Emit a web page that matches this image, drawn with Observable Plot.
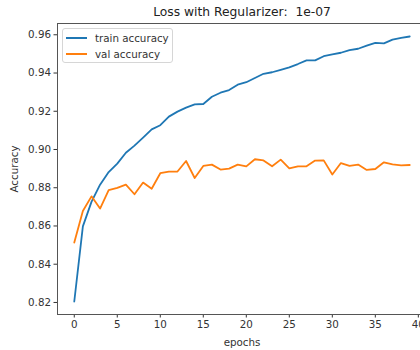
<!DOCTYPE html>
<html><head><meta charset="utf-8">
<script src="https://cdn.jsdelivr.net/npm/d3@7"></script>
<script src="https://cdn.jsdelivr.net/npm/@observablehq/plot@0.6"></script>
<style>
html,body{margin:0;padding:0;background:#fff;overflow:hidden;width:420px;height:350px;}
#wrap{position:relative;width:430px;height:350px;}
#wrap svg{position:absolute;left:0;top:0;}
.legend{position:absolute;left:62px;top:28px;width:111px;height:35px;border:1px solid #d6d6d6;border-radius:3px;background:rgba(255,255,255,0.85);box-sizing:border-box;font:10.3px "DejaVu Sans",sans-serif;color:#333;}
.legend .item{position:absolute;left:0;height:14px;width:110px;}
.legend .sw{position:absolute;left:3px;top:6px;width:21px;height:2px;}
.legend .lbl{position:absolute;left:32px;top:0;line-height:14px;white-space:nowrap;}
</style>
</head><body>
<div id="wrap"></div>
<script>
const title = "Loss with Regularizer:  1e-07";
const xLabel = "epochs";
const yLabel = "Accuracy";
const seriesNames = ["train accuracy", "val accuracy"];
const seriesColors = ["#1f77b4", "#ff7f0e"];
const epochs = [0,1,2,3,4,5,6,7,8,9,10,11,12,13,14,15,16,17,18,19,20,21,22,23,24,25,26,27,28,29,30,31,32,33,34,35,36,37,38,39];
const trainAcc = [0.8205,0.8598,0.8726,0.8816,0.8882,0.8926,0.8983,0.9020,0.9062,0.9105,0.9127,0.9172,0.9198,0.9219,0.9236,0.9238,0.9276,0.9297,0.9311,0.9339,0.9352,0.9374,0.9396,0.9404,0.9417,0.9430,0.9447,0.9466,0.9466,0.9488,0.9497,0.9506,0.9520,0.9527,0.9543,0.9558,0.9555,0.9575,0.9584,0.9591];
const valAcc = [0.8513,0.8678,0.8755,0.8691,0.8787,0.8799,0.8816,0.8766,0.8827,0.8795,0.8876,0.8884,0.8885,0.8940,0.8851,0.8914,0.8921,0.8895,0.8900,0.8921,0.8912,0.8949,0.8943,0.8912,0.8947,0.8901,0.8912,0.8912,0.8942,0.8943,0.8869,0.8929,0.8914,0.8921,0.8893,0.8898,0.8933,0.8922,0.8917,0.8919];
const xTicks = [0,5,10,15,20,25,30,35,40];
const yTicks = [0.82,0.84,0.86,0.88,0.90,0.92,0.94,0.96];

const rows = [];
epochs.forEach((e, i) => {
  rows.push({epoch: e, acc: trainAcc[i], series: seriesNames[0]});
  rows.push({epoch: e, acc: valAcc[i], series: seriesNames[1]});
});

const chart = Plot.plot({
  width: 430, height: 350,
  marginLeft: 57, marginRight: 4, marginTop: 23, marginBottom: 36,
  style: {fontFamily: "'DejaVu Sans', sans-serif", fontSize: "10.3px", color: "#333", background: "transparent", overflow: "visible"},
  x: {domain: [-1.95, 40.95]},
  y: {domain: [0.8137, 0.9659]},
  color: {domain: seriesNames, range: seriesColors},
  marks: [
    Plot.axisY({ticks: yTicks, tickFormat: d3.format(".2f"), tickSize: 3.5, tickPadding: 3, label: yLabel, labelAnchor: "center", labelArrow: "none", labelOffset: 47, color: "#333"}),
    Plot.axisX({ticks: xTicks, tickFormat: d => String(d), tickSize: 3.5, tickPadding: 3, label: xLabel, labelAnchor: "center", labelArrow: "none", labelOffset: 31, color: "#333"}),
    Plot.line(rows, {x: "epoch", y: "acc", z: "series", stroke: "series", strokeWidth: 1.8}),
    Plot.frame({stroke: "#555", strokeWidth: 1}),
    Plot.text([title], {frameAnchor: "top", lineAnchor: "middle", dy: -11, fontSize: 12.3, fill: "#222"})
  ]
});
const wrap = document.getElementById("wrap");
wrap.appendChild(chart);

const legend = document.createElement("div");
legend.className = "legend";
seriesNames.forEach((name, i) => {
  const item = document.createElement("div");
  item.className = "item";
  item.style.top = (2 + i * 16) + "px";
  const sw = document.createElement("div");
  sw.className = "sw";
  sw.style.background = seriesColors[i];
  const lbl = document.createElement("div");
  lbl.className = "lbl";
  lbl.textContent = name;
  item.appendChild(sw);
  item.appendChild(lbl);
  legend.appendChild(item);
});
wrap.appendChild(legend);
</script>
</body></html>
